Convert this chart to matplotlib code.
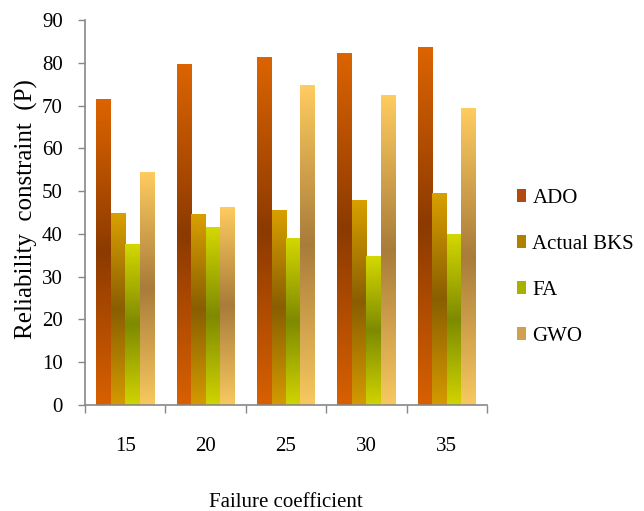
import numpy as np
import matplotlib
matplotlib.use("Agg")
import matplotlib.pyplot as plt
from matplotlib.colors import LinearSegmentedColormap
from matplotlib.patches import Patch

plt.rcParams['font.family'] = ['Liberation Serif', 'DejaVu Serif']

categories = ["15", "20", "25", "30", "35"]
series_names = ["ADO", "Actual BKS", "FA", "GWO"]
ado = [71.5, 79.6, 81.4, 82.4, 83.7]
actual_bks = [44.8, 44.7, 45.7, 48.0, 49.6]
fa = [37.7, 41.6, 39.1, 34.8, 39.9]
gwo = [54.5, 46.4, 74.7, 72.4, 69.4]
series_values = [ado, actual_bks, fa, gwo]

# gradient stops: bottom, middle, top
gradients = [
    ["#D86000", "#8C3A00", "#DC6400"],
    ["#D49A00", "#8A5E00", "#D9A000"],
    ["#D0D400", "#7E8A00", "#D4D800"],
    ["#F8C860", "#A87C3A", "#FFCC60"],
]
legend_colors = ["#B04A10", "#B08000", "#A8B000", "#D0A050"]

fig = plt.figure(figsize=(6.44, 5.11), dpi=100)
ax = fig.add_axes([85/644, 106/511, 402/644, 385/511])

n = len(categories)
x = np.arange(n)
width = 0.18
offsets = (np.arange(len(series_names)) - 1.5) * width

grad = np.linspace(0, 1, 256).reshape(-1, 1)
for vals, off, stops in zip(series_values, offsets, gradients):
    cmap = LinearSegmentedColormap.from_list("g", stops)
    bars = ax.bar(x + off, vals, width, color='none', edgecolor='none')
    for b in bars:
        x0, w, h = b.get_x(), b.get_width(), b.get_height()
        im = ax.imshow(grad, cmap=cmap, origin='lower', aspect='auto',
                       extent=(x0, x0 + w, 0, h), interpolation='bilinear', zorder=2)
        im.set_clip_path(b)

ax.set_xlim(-0.5, n - 0.5)
ax.set_ylim(0, 90)
ax.set_yticks(np.arange(0, 91, 10))

ax.set_xticks(np.arange(-0.5, n, 1.0))
ax.set_xticklabels([])
ax.set_xticks(x, minor=True)
ax.set_xticklabels(categories, minor=True)
ax.tick_params(axis='x', which='major', length=6, width=1, color='#888888', direction='out')
ax.tick_params(axis='x', which='minor', length=0, pad=23, labelsize=15)
ax.tick_params(axis='y', length=5, width=1, color='#888888', direction='out', pad=11, labelsize=15)

for s in ['top', 'right']:
    ax.spines[s].set_visible(False)
for s in ['left', 'bottom']:
    ax.spines[s].set_color('#888888')
    ax.spines[s].set_linewidth(1.2)

ax.set_ylabel("Reliability  constraint  (P)", fontsize=18)
ax.yaxis.set_label_coords(-0.117, 0.51)
ax.set_xlabel("Failure coefficient", fontsize=15)
ax.xaxis.set_label_coords(0.5, -0.228)

handles = [Patch(facecolor=c, edgecolor='none') for c in legend_colors]
fig.legend(handles, series_names, loc='center left', bbox_to_anchor=(498/644, 0.477),
           frameon=False, fontsize=15, handlelength=0.45, handleheight=0.6,
           handletextpad=0.3, labelspacing=1.3)

fig.savefig("out.png", dpi=100)
